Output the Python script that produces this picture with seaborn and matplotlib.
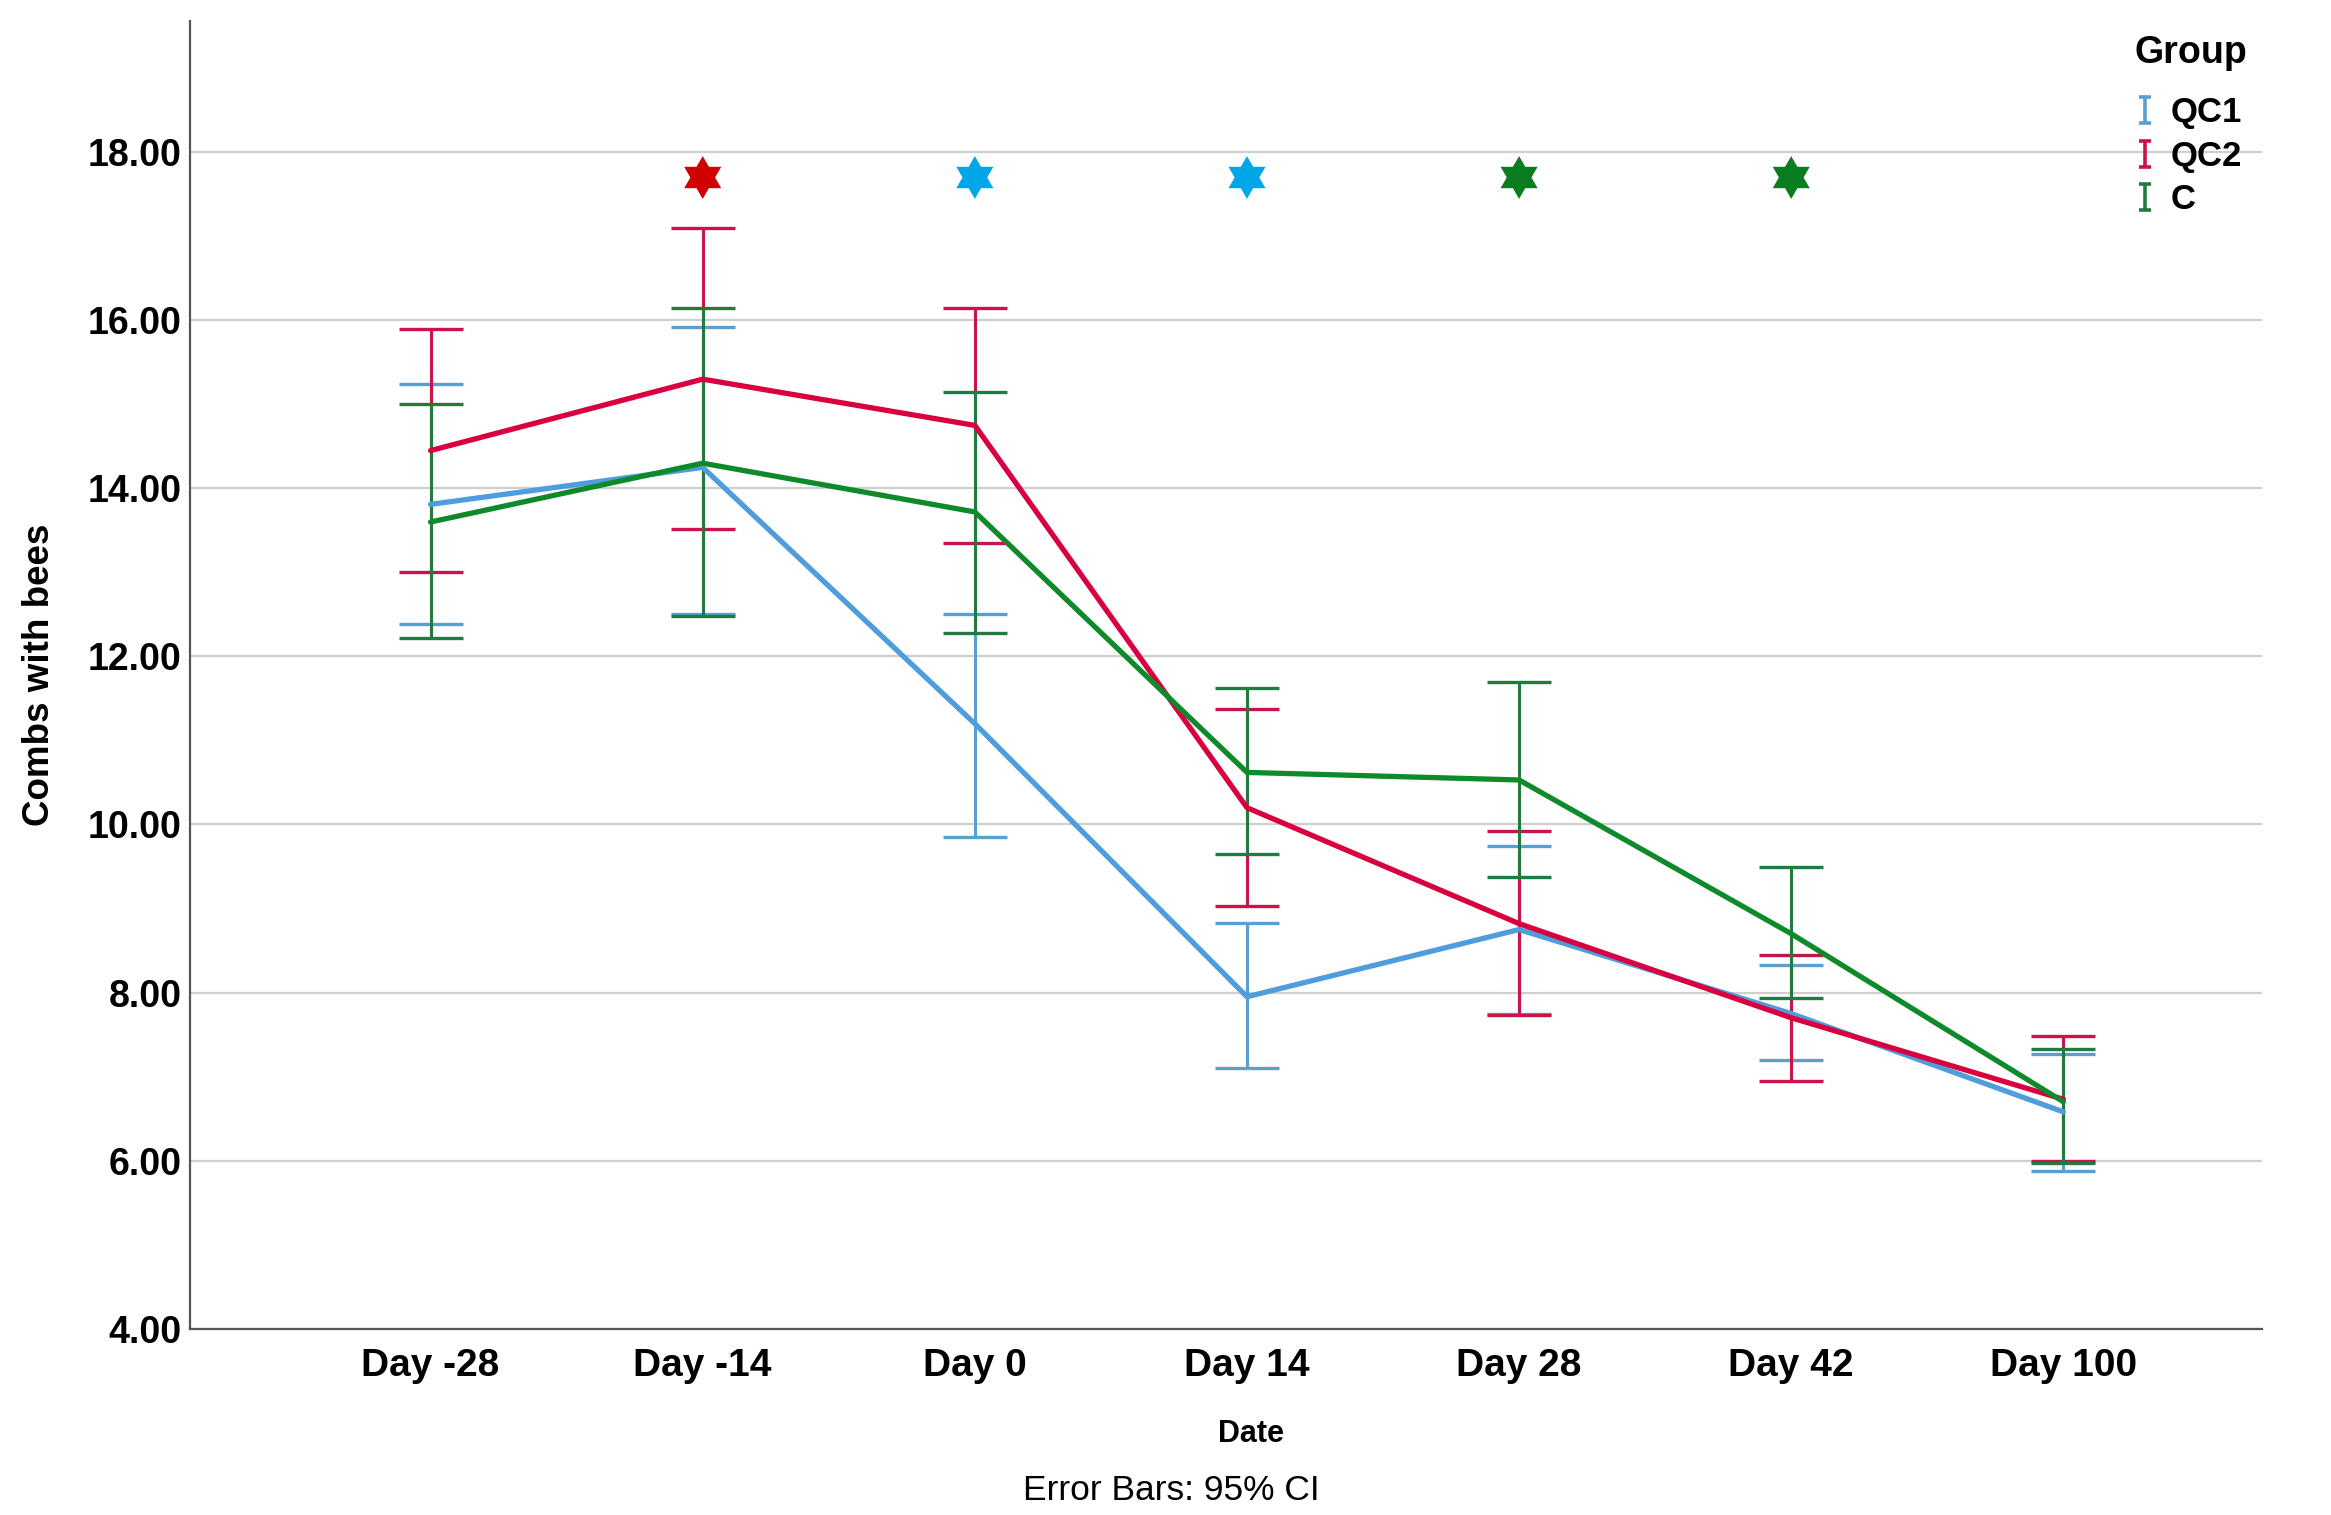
import numpy as np
import pandas as pd
import matplotlib
matplotlib.use("Agg")
import matplotlib.pyplot as plt
from matplotlib.lines import Line2D
from matplotlib.path import Path
import seaborn as sns

days = ["Day -28", "Day -14", "Day 0", "Day 14", "Day 28", "Day 42", "Day 100"]
groups = ["QC1", "QC2", "C"]

qc1_mean = [13.81, 14.25, 11.20, 7.95, 8.75, 7.75, 6.58]
qc1_low = [12.39, 12.50, 9.85, 7.10, 7.75, 7.20, 5.88]
qc1_high = [15.24, 15.92, 12.50, 8.83, 9.75, 8.33, 7.27]

qc2_mean = [14.45, 15.30, 14.75, 10.20, 8.82, 7.70, 6.73]
qc2_low = [13.00, 13.52, 13.35, 9.03, 7.73, 6.95, 6.00]
qc2_high = [15.90, 17.10, 16.15, 11.37, 9.92, 8.45, 7.48]

c_mean = [13.60, 14.30, 13.72, 10.62, 10.53, 8.70, 6.70]
c_low = [12.22, 12.48, 12.28, 9.65, 9.37, 7.93, 5.97]
c_high = [15.00, 16.15, 15.15, 11.62, 11.70, 9.50, 7.33]

star_days = ["Day -14", "Day 0", "Day 14", "Day 28", "Day 42"]
star_values = [17.70, 17.70, 17.70, 17.70, 17.70]
star_colors = ["#d00000", "#00a6e8", "#00a6e8", "#0a7d1e", "#0a7d1e"]

line_colors = {"QC1": "#4f9ddc", "QC2": "#d8003f", "C": "#0f8a2a"}
bar_colors = {"QC1": "#5b9fd0", "QC2": "#c81448", "C": "#237a40"}

means = {"QC1": qc1_mean, "QC2": qc2_mean, "C": c_mean}
lows = {"QC1": qc1_low, "QC2": qc2_low, "C": c_low}
highs = {"QC1": qc1_high, "QC2": qc2_high, "C": c_high}

rows = []
for g in groups:
    for d, m, lo, hi in zip(days, means[g], lows[g], highs[g]):
        rows.append({"Date": d, "Group": g, "mean": m, "low": lo, "high": hi})
df = pd.DataFrame(rows)

sns.set_theme(style="white")
plt.rcParams["font.family"] = ["Liberation Sans", "DejaVu Sans"]
for k in ["text.color", "axes.labelcolor", "xtick.color", "ytick.color"]:
    plt.rcParams[k] = "black"

fig = plt.figure(figsize=(23.31, 15.15), dpi=100)
ax = fig.add_axes([0.0814, 0.123, 0.889, 0.863])

ax.set_ylim(4.0, 19.56)
ax.set_yticks([4, 6, 8, 10, 12, 14, 16, 18])
ax.set_yticklabels([f"{v:.2f}" for v in [4, 6, 8, 10, 12, 14, 16, 18]])
ax.yaxis.grid(True, color="#cfcfcf", linewidth=1.6)
ax.set_axisbelow(True)

# error bars
for g in groups:
    sub = df[df.Group == g]
    yerr = np.vstack([sub["mean"] - sub["low"], sub["high"] - sub["mean"]])
    ax.errorbar(sub["Date"], sub["mean"], yerr=yerr, fmt="none",
                ecolor=bar_colors[g], elinewidth=2.2, capsize=23, capthick=2.4, zorder=3)

sns.lineplot(data=df, x="Date", y="mean", hue="Group", hue_order=groups,
             palette=line_colors, linewidth=3.8, legend=False, ax=ax, zorder=4, sort=False)

star = Path.unit_regular_star(6, 0.577)
for d, v, col in zip(star_days, star_values, star_colors):
    ax.scatter([d], [v], marker=star, s=950, color=col, edgecolor="none", zorder=5)

ax.set_xlim(-0.885, 6.73)

for s in ["top", "right"]:
    ax.spines[s].set_visible(False)
for s in ["left", "bottom"]:
    ax.spines[s].set_color("#555555")
    ax.spines[s].set_linewidth(1.6)

ax.tick_params(axis="x", length=0, labelsize=28, pad=14)
ax.tick_params(axis="y", length=0, labelsize=27, pad=6)
for lbl in ax.get_xticklabels() + ax.get_yticklabels():
    lbl.set_fontweight("bold")

ax.set_xlabel("")
ax.set_ylabel("Combs with bees", fontsize=26.5, fontweight="bold", labelpad=22)
fig.text(0.5365, 0.0535, "Date", ha="center", va="center", fontsize=22, fontweight="bold")
fig.text(0.5026, 0.016, "Error Bars: 95% CI", ha="center", va="center", fontsize=25.5)

ibeam = Path([(-0.45, 1), (0.45, 1), (0, 1), (0, -1), (-0.45, -1), (0.45, -1)],
             [Path.MOVETO, Path.LINETO, Path.MOVETO, Path.LINETO, Path.MOVETO, Path.LINETO])
handles = [Line2D([], [], linestyle="none", marker=ibeam, markersize=19,
                  markeredgewidth=2.6, markerfacecolor="none",
                  markeredgecolor=bar_colors[g]) for g in groups]
leg = ax.legend(handles, groups, title="Group", loc="upper right",
                bbox_to_anchor=(1.008, 1.013), frameon=False,
                prop={"size": 25, "weight": "bold"}, handlelength=0.6,
                handletextpad=0.45, labelspacing=0.3, alignment="left")
leg.get_title().set_fontsize(27)
leg.get_title().set_fontweight("bold")
leg._legend_box.sep = 18

fig.savefig("out.png", dpi=100, facecolor="white")
